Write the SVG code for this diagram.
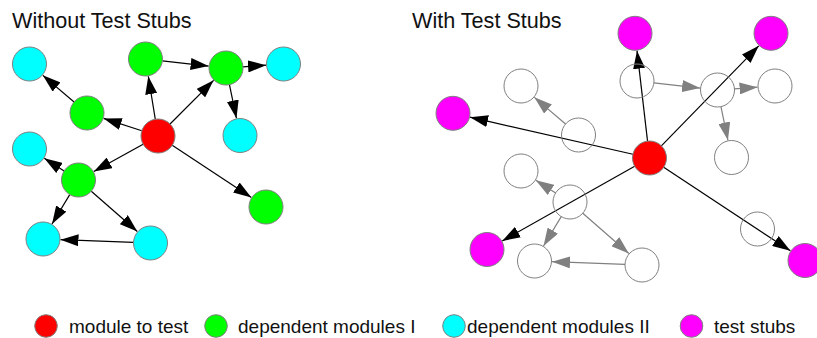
<svg xmlns="http://www.w3.org/2000/svg" width="817" height="338" viewBox="0 0 817 338">
<style>
text{font-family:"Liberation Sans",Arial,sans-serif;fill:#111}
.title{font-size:21.6px}
.leg{font-size:19px}
circle{stroke:#808080;stroke-width:1}
.r{fill:#ff0000}.g{fill:#00ff00}.c{fill:#00ffff}.m{fill:#ff00ff}.w{fill:none}
.e{stroke:#000;stroke-width:1.2;fill:none;marker-end:url(#ah)}
.eg{stroke:#808080;stroke-width:1.2;fill:none;marker-end:url(#ahg)}
</style>
<defs>
<marker id="ah" markerWidth="18" markerHeight="12" refX="18" refY="6" orient="auto" markerUnits="userSpaceOnUse"><path d="M0,0 L18,6 L0,12 z" fill="#000"/></marker>
<marker id="ahg" markerWidth="18" markerHeight="12" refX="18" refY="6" orient="auto" markerUnits="userSpaceOnUse"><path d="M0,0 L18,6 L0,12 z" fill="#808080"/></marker>
</defs>
<rect width="817" height="338" fill="#fff"/>
<text class="title" x="12" y="28">Without Test Stubs</text>
<text class="title" x="412" y="28">With Test Stubs</text>

<g id="connectors">
<g id="left-edges">
<line class="e" x1="155.28" y1="119.22" x2="148.30" y2="76.27"/>
<line class="e" x1="170.02" y1="123.98" x2="213.63" y2="80.37"/>
<line class="e" x1="141.83" y1="130.76" x2="103.65" y2="118.39"/>
<line class="e" x1="143.13" y1="144.23" x2="93.81" y2="171.52"/>
<line class="e" x1="172.21" y1="145.34" x2="251.38" y2="197.39"/>
<line class="e" x1="162.39" y1="60.89" x2="208.61" y2="66.06"/>
<line class="e" x1="242.96" y1="66.82" x2="266.04" y2="65.21"/>
<line class="e" x1="229.45" y1="84.64" x2="236.45" y2="118.37"/>
<line class="e" x1="74.06" y1="101.97" x2="42.82" y2="75.35"/>
<line class="e" x1="64.13" y1="170.91" x2="44.29" y2="158.36"/>
<line class="e" x1="69.74" y1="194.57" x2="52.02" y2="224.01"/>
<line class="e" x1="91.29" y1="191.19" x2="137.33" y2="231.48"/>
<line class="e" x1="133.51" y1="242.37" x2="60.49" y2="239.65"/>
</g>
<g id="right-edges-grey" transform="translate(491.5,22)">
<line class="eg" x1="162.39" y1="60.89" x2="208.61" y2="66.06"/>
<line class="eg" x1="242.96" y1="66.82" x2="266.04" y2="65.21"/>
<line class="eg" x1="229.45" y1="84.64" x2="236.45" y2="118.37"/>
<line class="eg" x1="74.06" y1="101.97" x2="42.82" y2="75.35"/>
<line class="eg" x1="64.13" y1="170.91" x2="44.29" y2="158.36"/>
<line class="eg" x1="69.74" y1="194.57" x2="52.02" y2="224.01"/>
<line class="eg" x1="91.29" y1="191.19" x2="137.33" y2="231.48"/>
<line class="eg" x1="133.51" y1="242.37" x2="60.49" y2="239.65"/>
</g>
<g id="right-edges-stubs">
<line class="e" x1="647.54" y1="141.11" x2="637.02" y2="50.68"/>
<line class="e" x1="661.36" y1="145.82" x2="758.79" y2="45.84"/>
<line class="e" x1="632.92" y1="154.23" x2="470.06" y2="117.18"/>
<line class="e" x1="634.69" y1="166.34" x2="502.25" y2="240.91"/>
<line class="e" x1="663.69" y1="167.36" x2="790.39" y2="250.87"/>
</g>
</g>

<g id="L-R"><circle class="r" cx="158" cy="136" r="17"/></g>
<g id="L-G1"><circle class="g" cx="145.5" cy="59" r="17"/></g>
<g id="L-G2"><circle class="g" cx="226" cy="68" r="17"/></g>
<g id="L-G3"><circle class="g" cx="87" cy="113" r="17"/></g>
<g id="L-G4"><circle class="g" cx="78.5" cy="180" r="17"/></g>
<g id="L-G5"><circle class="g" cx="266" cy="207" r="17"/></g>
<g id="L-C1"><circle class="c" cx="29.5" cy="64" r="17"/></g>
<g id="L-C2"><circle class="c" cx="283.5" cy="64" r="17"/></g>
<g id="L-C3"><circle class="c" cx="240" cy="135.5" r="17"/></g>
<g id="L-C4"><circle class="c" cx="29.5" cy="149" r="17"/></g>
<g id="L-C5"><circle class="c" cx="43" cy="239" r="17"/></g>
<g id="L-C6"><circle class="c" cx="150.5" cy="243" r="17"/></g>

<g id="R-R"><circle class="r" cx="649.5" cy="158" r="17"/></g>
<g id="R-W1"><circle class="w" cx="637" cy="81" r="17"/></g>
<g id="R-W2"><circle class="w" cx="717.5" cy="90" r="17"/></g>
<g id="R-W3"><circle class="w" cx="578.5" cy="135" r="17"/></g>
<g id="R-W4"><circle class="w" cx="570" cy="202" r="17"/></g>
<g id="R-W5"><circle class="w" cx="757.5" cy="229" r="17"/></g>
<g id="R-W6"><circle class="w" cx="521" cy="86" r="17"/></g>
<g id="R-W7"><circle class="w" cx="775" cy="86" r="17"/></g>
<g id="R-W8"><circle class="w" cx="731.5" cy="157.5" r="17"/></g>
<g id="R-W9"><circle class="w" cx="521" cy="171" r="17"/></g>
<g id="R-W10"><circle class="w" cx="534.5" cy="261" r="17"/></g>
<g id="R-W11"><circle class="w" cx="642" cy="265" r="17"/></g>
<g id="R-M1"><circle class="m" cx="635" cy="33.3" r="17"/></g>
<g id="R-M2"><circle class="m" cx="771" cy="33.3" r="17"/></g>
<g id="R-M3"><circle class="m" cx="453" cy="113.3" r="17"/></g>
<g id="R-M4"><circle class="m" cx="487" cy="249.5" r="17"/></g>
<g id="R-M5"><circle class="m" cx="805" cy="260.5" r="17"/></g>

<g id="legend">
<g id="leg-red"><circle class="r" cx="46" cy="326" r="11.3"/><text class="leg" x="69" y="333">module to test</text></g>
<g id="leg-green"><circle class="g" cx="216" cy="326" r="11.3"/><text class="leg" x="238" y="333">dependent modules I</text></g>
<g id="leg-cyan"><circle class="c" cx="454" cy="326" r="11.3"/><text class="leg" x="467" y="333">dependent modules II</text></g>
<g id="leg-magenta"><circle class="m" cx="691.5" cy="326" r="11.3"/><text class="leg" x="714" y="333">test stubs</text></g>
</g>
</svg>
